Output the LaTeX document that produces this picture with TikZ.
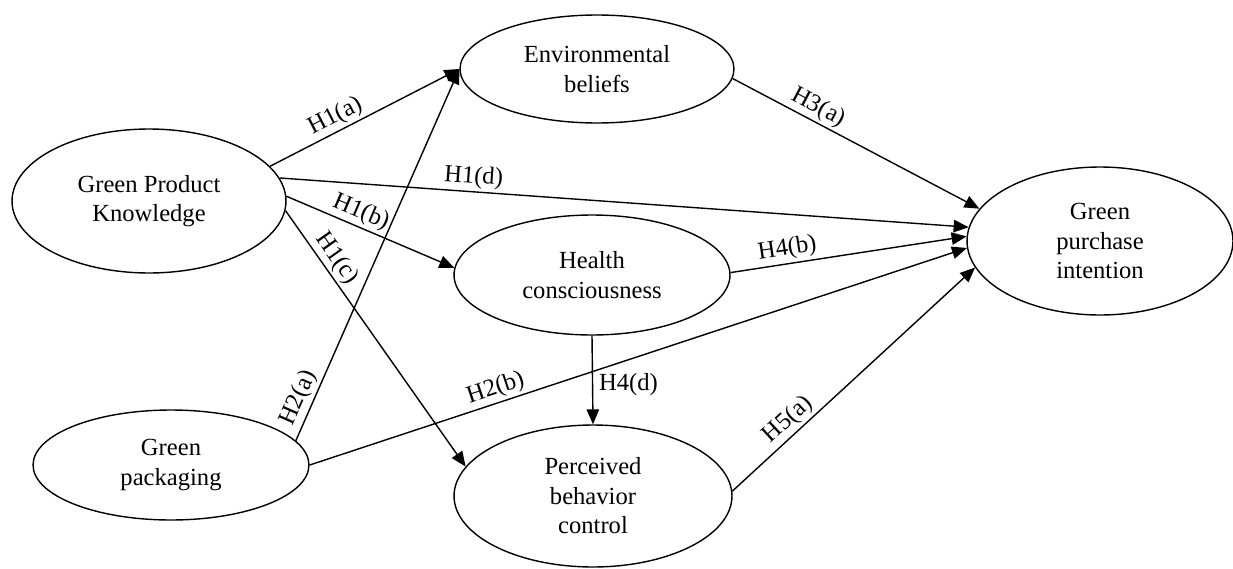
\documentclass[tikz,border=0pt]{standalone}
\usepackage{fontspec}
\setmainfont{Liberation Serif}
\usepackage{tikz}
\usetikzlibrary{arrows.meta, shapes.geometric}

\begin{document}
\begin{tikzpicture}[x=0.02cm, y=-0.02cm,
    font=\fontsize{14}{16.8}\selectfont,
    construct/.style={draw, ellipse, line width=0.8pt, align=center, inner sep=0pt},
    hyp/.style={line width=0.8pt, -{Triangle[length=3mm, width=2.5mm]}},
    hlabel/.style={sloped, above, inner sep=1.5pt}]
  \useasboundingbox (0,0) rectangle (1233,568);

  % exogenous constructs
  \node[construct, minimum width=5.48cm, minimum height=2.88cm] (gpk) at (149,201)
        {Green Product\\Knowledge};
  \node[construct, minimum width=5.52cm, minimum height=2.2cm] (gp) at (171,465)
        {Green\\packaging};

  % mediators
  \node[construct, minimum width=5.48cm, minimum height=2.16cm] (env) at (597,69)
        {Environmental\\beliefs};
  \node[construct, minimum width=5.52cm, minimum height=2.4cm] (hc) at (592,275)
        {Health\\consciousness};
  \node[construct, minimum width=5.56cm, minimum height=2.84cm] (pbc) at (593,496)
        {Perceived\\behavior\\control};

  % outcome
  \node[construct, minimum width=5.32cm, minimum height=2.96cm] (gpi) at (1100,241)
        {Green\\purchase\\intention};

  % paths from green product knowledge
  \draw[hyp] (gpk.16) -- node[hlabel, pos=0.38] {H1(a)} (env.west);
  \draw[hyp] (gpk.10) -- node[hlabel, pos=0.28] {H1(d)} (gpi.174);
  \draw[hyp] (gpk.2) -- node[hlabel, pos=0.41] {H1(b)} (hc.177);
  \draw[hyp] (gpk.-4) -- node[hlabel, pos=0.22] {H1(c)} (pbc.167);

  % paths from green packaging
  \draw[hyp] (gp.11) -- node[hlabel, pos=0.1] {H2(a)} (env.west);
  \draw[hyp] (gp.east) -- node[hlabel, pos=0.29] {H2(b)} (gpi.183);

  % mediator paths
  \draw[hyp] (env.-4) -- node[hlabel, pos=0.32] {H3(a)} (gpi.165);
  \draw[hyp] (hc.1) -- node[hlabel, pos=0.25] {H4(b)} (gpi.178);
  \draw[hyp] (hc.south) -- node[right, pos=0.55] {H4(d)} (pbc.north);
  \draw[hyp] (pbc.2) -- node[hlabel, pos=0.27] {H5(a)} (gpi.192);
\end{tikzpicture}
\end{document}
